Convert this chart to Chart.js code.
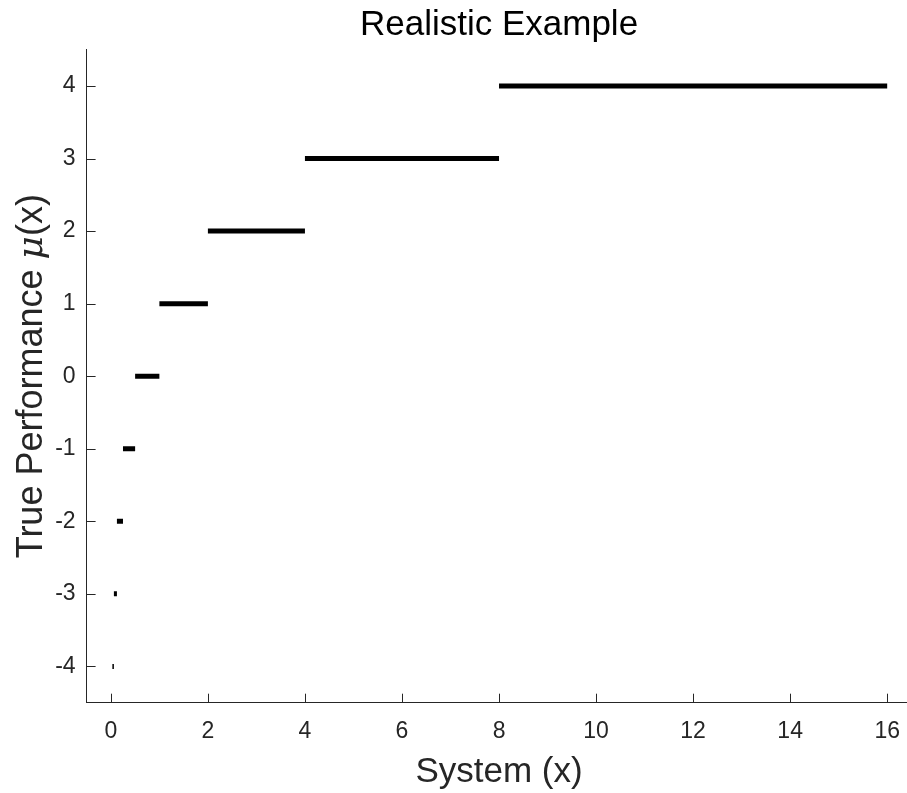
<!DOCTYPE html>
<html>
<head>
<meta charset="utf-8">
<script src="https://cdn.jsdelivr.net/npm/chart.js@4/dist/chart.umd.min.js"></script>
<style>
  html, body { margin: 0; padding: 0; background: #fff; overflow: hidden; }
  canvas { display: block; }
</style>
</head>
<body>
<canvas id="chart" width="915" height="793"></canvas>
<script>
// step levels and the x-range each one covers
const levels = [-4, -3, -2, -1, 0, 1, 2, 3, 4];
const segStart = [0.03125, 0.0625, 0.125, 0.25, 0.5, 1, 2, 4, 8];
const segEnd = [0.0625, 0.125, 0.25, 0.5, 1, 2, 4, 8, 16];

const xTicks = [0, 2, 4, 6, 8, 10, 12, 14, 16];
const yTicks = [-4, -3, -2, -1, 0, 1, 2, 3, 4];

const titleText = "Realistic Example";
const xLabel = "System (x)";

const axisColor = "#262626";
const FONT = "'Liberation Sans', Arial, sans-serif";

const datasets = levels.map((lv, i) => ({
  data: [{ x: segStart[i], y: lv }, { x: segEnd[i], y: lv }],
  borderColor: "#000",
  borderWidth: 5,
  borderCapStyle: "butt",
  pointRadius: 0,
  fill: false,
}));

// inward ticks + title + axis labels
const decorations = {
  id: "decorations",
  afterDraw(chart) {
    const ctx = chart.ctx;
    const a = chart.chartArea;
    const xs = chart.scales.x;
    const ys = chart.scales.y;
    ctx.save();
    ctx.strokeStyle = axisColor;
    ctx.lineWidth = 1;
    xTicks.forEach((v) => {
      const px = Math.round(xs.getPixelForValue(v)) + 0.5;
      ctx.beginPath();
      ctx.moveTo(px, a.bottom);
      ctx.lineTo(px, a.bottom - 9);
      ctx.stroke();
    });
    yTicks.forEach((v) => {
      const py = Math.round(ys.getPixelForValue(v)) + 0.5;
      ctx.beginPath();
      ctx.moveTo(a.left, py);
      ctx.lineTo(a.left + 9, py);
      ctx.stroke();
    });

    const cx = (a.left + a.right) / 2;
    ctx.fillStyle = "#000";
    ctx.textAlign = "center";
    ctx.textBaseline = "alphabetic";
    ctx.font = "35px " + FONT;
    ctx.fillText(titleText, cx, 35);
    ctx.fillStyle = axisColor;
    ctx.fillText(xLabel, cx, 782);

    // y label with italic mu
    const parts = [
      { t: "True Performance ", f: "36px " + FONT },
      { t: "\u03bc", f: "italic 36px 'DejaVu Serif', serif" },
      { t: "(x)", f: "36px " + FONT },
    ];
    let total = 0;
    parts.forEach((p) => { ctx.font = p.f; p.w = ctx.measureText(p.t).width; total += p.w; });
    ctx.translate(42, (a.top + a.bottom) / 2);
    ctx.rotate(-Math.PI / 2);
    ctx.textAlign = "left";
    let x0 = -total / 2;
    parts.forEach((p) => { ctx.font = p.f; ctx.fillText(p.t, x0, 0); x0 += p.w; });
    ctx.restore();
  },
};

new Chart(document.getElementById("chart"), {
  type: "line",
  data: { datasets },
  options: {
    responsive: false,
    animation: false,
    events: [],
    layout: { autoPadding: false, padding: { top: 49.7, right: 0.7, bottom: 0, left: 0 } },
    plugins: { legend: { display: false }, tooltip: { enabled: false }, title: { display: false } },
    scales: {
      x: {
        type: "linear",
        min: -0.5,
        max: 16.5,
        afterFit: (s) => { s.height = 90.3; },
        afterBuildTicks: (s) => { s.ticks = xTicks.map((v) => ({ value: v })); },
        grid: { display: true, drawOnChartArea: false, drawTicks: false },
        border: { display: true, color: axisColor, width: 1 },
        ticks: { color: axisColor, font: { family: FONT, size: 23 }, padding: 15, maxRotation: 0 },
      },
      y: {
        type: "linear",
        min: -4.5,
        max: 4.5,
        afterFit: (s) => { s.width = 86.6; },
        afterBuildTicks: (s) => { s.ticks = yTicks.map((v) => ({ value: v })); },
        grid: { display: true, drawOnChartArea: false, drawTicks: false },
        border: { display: true, color: axisColor, width: 1 },
        ticks: { color: axisColor, font: { family: FONT, size: 23 }, padding: 11 },
      },
    },
  },
  plugins: [decorations],
});
</script>
</body>
</html>
